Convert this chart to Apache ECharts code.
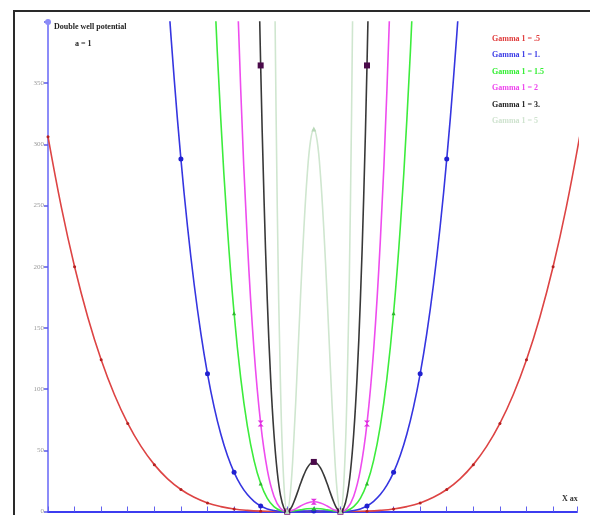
<!DOCTYPE html>
<html>
<head>
<meta charset="utf-8">
<script src="https://cdn.jsdelivr.net/npm/echarts@6/dist/echarts.min.js"></script>
<style>
  html, body { margin: 0; padding: 0; background: #fff; }
  #chart { width: 590px; height: 515px; }
</style>
</head>
<body>
<div id="chart"></div>
<script>
// sample positions (x) and potential values
const redX = [-10, -9.5, -9, -8.5, -8, -7.5, -7, -6.5, -6, -5.5, -5, -4.5, -4, -3.5, -3, -2.5, -2, -1.5, -1, -0.5, 0,
  0.5, 1, 1.5, 2, 2.5, 3, 3.5, 4, 4.5, 5, 5.5, 6, 6.5, 7, 7.5, 8, 8.5, 9, 9.5, 10];
const redV = [306.3, 248.9, 200.0, 158.6, 124.0, 95.4, 72.0, 53.2, 38.3, 26.7, 18.0, 11.6, 7.0, 4.0, 2.0, 0.9, 0.3, 0.05, 0, 0.02, 0.03,
  0.02, 0, 0.05, 0.3, 0.9, 2.0, 4.0, 7.0, 11.6, 18.0, 26.7, 38.3, 53.2, 72.0, 95.4, 124.0, 158.6, 200.0, 248.9, 306.3];

const blueX = [-6, -5.75, -5.5, -5.25, -5, -4.75, -4.5, -4.25, -4, -3.75, -3.5, -3.25, -3, -2.75, -2.5, -2.25, -2, -1.75, -1.5, -1.25, -1, -0.75, -0.5, -0.25, 0,
  0.25, 0.5, 0.75, 1, 1.25, 1.5, 1.75, 2, 2.25, 2.5, 2.75, 3, 3.25, 3.5, 3.75, 4, 4.25, 4.5, 4.75, 5, 5.25, 5.5, 5.75, 6];
const blueV = [612.5, 514.0, 427.8, 352.8, 288.0, 232.5, 185.3, 145.6, 112.5, 85.3, 63.3, 45.7, 32.0, 21.5, 13.8, 8.3, 4.5, 2.1, 0.8, 0.16, 0, 0.1, 0.28, 0.44, 0.5,
  0.44, 0.28, 0.1, 0, 0.16, 0.8, 2.1, 4.5, 8.3, 13.8, 21.5, 32.0, 45.7, 63.3, 85.3, 112.5, 145.6, 185.3, 232.5, 288.0, 352.8, 427.8, 514.0, 612.5];

const greenX = [-4, -3.75, -3.5, -3.25, -3, -2.75, -2.5, -2.25, -2, -1.75, -1.5, -1.25, -1, -0.75, -0.5, -0.25, 0,
  0.25, 0.5, 0.75, 1, 1.25, 1.5, 1.75, 2, 2.25, 2.5, 2.75, 3, 3.25, 3.5, 3.75, 4];
const greenV = [569.5, 431.9, 320.4, 231.5, 162.0, 109.0, 69.8, 41.8, 22.8, 10.8, 4.0, 0.8, 0, 0.5, 1.4, 2.2, 2.5,
  2.2, 1.4, 0.5, 0, 0.8, 4.0, 10.8, 22.8, 41.8, 69.8, 109.0, 162.0, 231.5, 320.4, 431.9, 569.5];

const magentaX = [-3, -2.75, -2.5, -2.25, -2, -1.75, -1.5, -1.25, -1, -0.75, -0.5, -0.25, 0,
  0.25, 0.5, 0.75, 1, 1.25, 1.5, 1.75, 2, 2.25, 2.5, 2.75, 3];
const magentaV = [512, 344.6, 220.5, 132.0, 72.0, 34.0, 12.5, 2.5, 0, 1.5, 4.5, 7.0, 8.0,
  7.0, 4.5, 1.5, 0, 2.5, 12.5, 34.0, 72.0, 132.0, 220.5, 344.6, 512];

const blackX = [-2.25, -2.125, -2, -1.875, -1.75, -1.625, -1.5, -1.375, -1.25, -1.125, -1, -0.875, -0.75, -0.625, -0.5, -0.375, -0.25, -0.125, 0,
  0.125, 0.25, 0.375, 0.5, 0.625, 0.75, 0.875, 1, 1.125, 1.25, 1.375, 1.5, 1.625, 1.75, 1.875, 2, 2.125, 2.25];
const blackV = [668.4, 500.6, 364.5, 256.3, 172.3, 109.0, 63.3, 32.1, 12.8, 2.9, 0, 2.2, 7.8, 15.0, 22.8, 29.9, 35.6, 39.2, 40.5,
  39.2, 35.6, 29.9, 22.8, 15.0, 7.8, 2.2, 0, 2.9, 12.8, 32.1, 63.3, 109.0, 172.3, 256.3, 364.5, 500.6, 668.4];

const grayX = [-1.5, -1.375, -1.25, -1.125, -1, -0.875, -0.75, -0.625, -0.5, -0.375, -0.25, -0.125, 0,
  0.125, 0.25, 0.375, 0.5, 0.625, 0.75, 0.875, 1, 1.125, 1.25, 1.375, 1.5];
const grayV = [488.3, 247.9, 98.9, 22.1, 0, 17.2, 59.8, 116.0, 175.8, 230.8, 274.7, 302.8, 312.5,
  302.8, 274.7, 230.8, 175.8, 116.0, 59.8, 17.2, 0, 22.1, 98.9, 247.9, 488.3];

const yTicks = [0, 50, 100, 150, 200, 250, 300, 350];
const seriesNames = ['Gamma 1 = .5', 'Gamma 1 = 1.', 'Gamma 1 = 1.5', 'Gamma 1 = 2', 'Gamma 1 = 3.', 'Gamma 1 = 5'];
const seriesColors = ['#dd4444', '#3535e0', '#3cec3c', '#ee4cee', '#383838', '#cfe6cf'];
const legendColors = ['#e03a3a', '#3a3ae6', '#33ee33', '#ee44ee', '#222222', '#cfe3cf'];

const SERIF = "'Liberation Serif', 'DejaVu Serif', serif";

function curve(i, xs, vals, symbol, size, symbolColor) {
  return {
    name: seriesNames[i],
    type: 'line',
    data: xs.map((x, k) => [x, vals[k]]),
    smooth: 0.4,
    clip: true,
    symbol: symbol,
    // markers only at integer x
    symbolSize: (v) => Number.isInteger(v[0]) ? size : 0,
    lineStyle: { color: seriesColors[i], width: 1.6 },
    itemStyle: { color: symbolColor, borderWidth: 0 },
    emphasis: { disabled: true },
    z: 2 + i
  };
}

const chart = echarts.init(document.getElementById('chart'), null, { renderer: 'canvas' });

const option = {
  animation: false,
  backgroundColor: '#ffffff',
  grid: { left: 48, right: 13, top: 22, bottom: 2, containLabel: false },
  legend: {
    orient: 'vertical',
    left: 482,
    top: 29,
    itemWidth: 0,
    itemHeight: 10,
    itemGap: 6.4,
    icon: 'rect',
    selectedMode: false,
    textStyle: { fontFamily: SERIF, fontWeight: 'bold', fontSize: 8, lineHeight: 10 },
    data: seriesNames.map((n, i) => ({ name: n, textStyle: { color: legendColors[i] } }))
  },
  xAxis: {
    type: 'value',
    min: -10,
    max: 9.9,
    interval: 1,
    axisLine: { show: true, onZero: false, lineStyle: { color: '#3c3cf0', width: 2 } },
    axisTick: { show: true, inside: true, length: 5, lineStyle: { color: '#6060f0', width: 1 } },
    axisLabel: { show: false },
    splitLine: { show: false }
  },
  yAxis: {
    type: 'value',
    min: 0,
    max: 400,
    interval: 50,
    axisLine: {
      show: true, onZero: false,
      lineStyle: { color: '#8c8cf8', width: 2 },
      symbol: ['none', 'circle'], symbolSize: [6, 6], symbolOffset: [0, 0]
    },
    axisTick: { show: true, length: 4, lineStyle: { color: '#5a5ae8', width: 1.5 } },
    axisLabel: {
      color: '#9a9a9a', fontFamily: SERIF, fontSize: 7, margin: 4,
      formatter: (v) => yTicks.includes(v) ? String(v) : ''
    },
    splitLine: { show: false }
  },
  series: [
    curve(0, redX, redV, 'circle', 3, '#b52020'),
    curve(1, blueX, blueV, 'circle', 5, '#2020d0'),
    curve(2, greenX, greenV, 'triangle', 4, '#2bb82b'),
    curve(3, magentaX, magentaV, 'path://M0,0L10,0L0,12L10,12Z', 6, '#e030e0'),
    curve(4, blackX, blackV, 'rect', 6, '#4a0a4a'),
    curve(5, grayX, grayV, 'triangle', 5, '#b8d8b8')
  ],
  graphic: [
    { type: 'rect', silent: true, z: -1,
      shape: { x: 14, y: 11, width: 700, height: 700 },
      style: { fill: 'none', stroke: '#2a2a2a', lineWidth: 2 } },
    { type: 'text', left: 54, top: 23, silent: true,
      style: { text: 'Double well potential', fill: '#222', font: "bold 8px 'Liberation Serif', serif" } },
    { type: 'text', left: 75, top: 40, silent: true,
      style: { text: 'a = 1', fill: '#222', font: "bold 8px 'Liberation Serif', serif" } },
    { type: 'text', left: 562, top: 495, silent: true,
      style: { text: 'X ax', fill: '#333', font: "bold 8px 'Liberation Serif', serif" } }
  ]
};

chart.setOption(option);
</script>
</body>
</html>
